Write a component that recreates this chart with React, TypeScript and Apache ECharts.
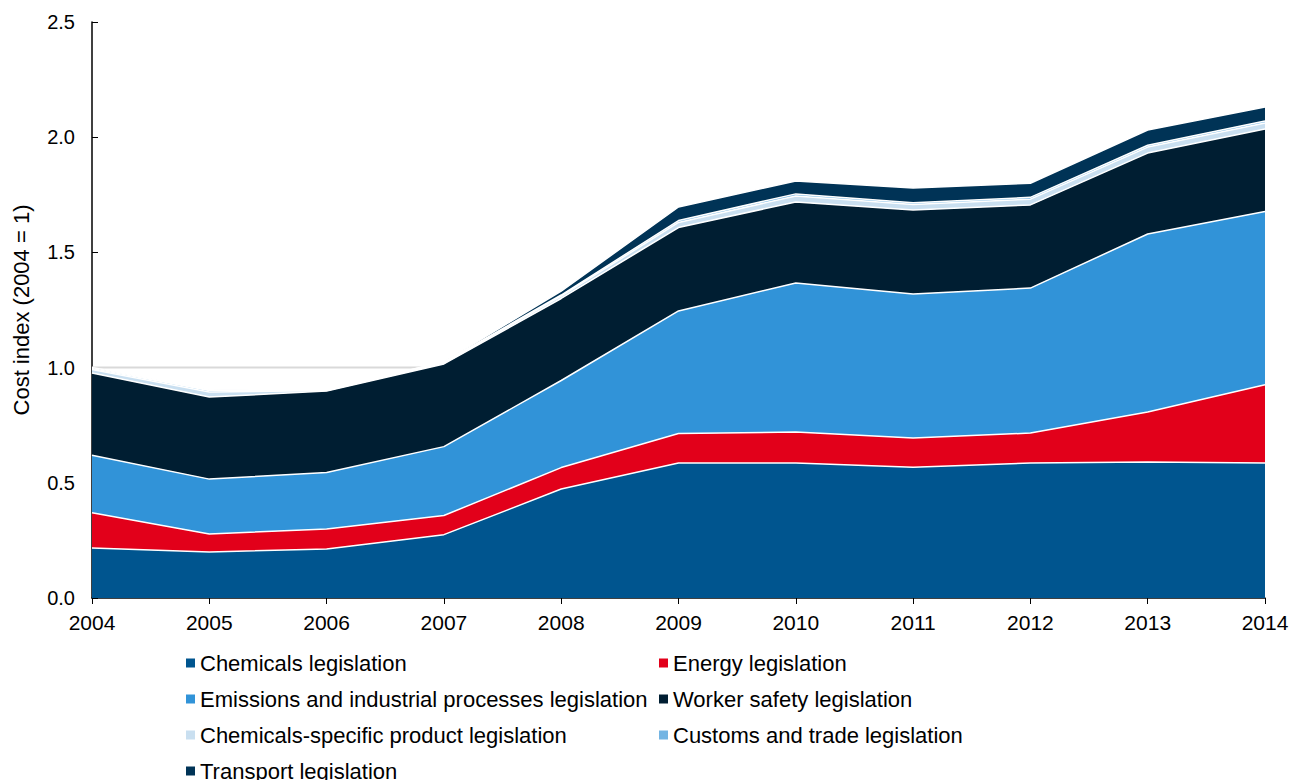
import React, { useEffect, useRef } from "react";
import * as echarts from "echarts";

const years = ["2004", "2005", "2006", "2007", "2008", "2009", "2010", "2011", "2012", "2013", "2014"];
const chemicals = [0.217, 0.2, 0.213, 0.275, 0.473, 0.586, 0.586, 0.567, 0.586, 0.59, 0.586];
const energy = [0.153, 0.078, 0.087, 0.083, 0.093, 0.128, 0.134, 0.127, 0.13, 0.217, 0.34];
const emissions = [0.25, 0.238, 0.245, 0.299, 0.378, 0.532, 0.647, 0.625, 0.629, 0.773, 0.752];
const workerSafety = [0.357, 0.356, 0.353, 0.359, 0.356, 0.362, 0.352, 0.365, 0.361, 0.351, 0.358];
const chemProduct = [0.015, 0.022, 0.003, 0.004, 0.01, 0.022, 0.026, 0.024, 0.025, 0.026, 0.026];
const customs = [0.004, 0.007, 0.002, 0.004, 0.005, 0.008, 0.009, 0.008, 0.008, 0.008, 0.008];
const transport = [0.004, 0.002, 0.001, 0.001, 0.017, 0.059, 0.056, 0.064, 0.061, 0.066, 0.061];
const referenceLine = [1, 1, 1, 1, 1, 1, 1, 1, 1, 1, 1];
const yTicks = [0, 0.5, 1, 1.5, 2, 2.5];

const seriesDefs = [
  { name: "Chemicals legislation", data: chemicals, color: "#00558F" },
  { name: "Energy legislation", data: energy, color: "#E2001A" },
  { name: "Emissions and industrial processes legislation", data: emissions, color: "#3193D8" },
  { name: "Worker safety legislation", data: workerSafety, color: "#001E32" },
  { name: "Chemicals-specific product legislation", data: chemProduct, color: "#C9DFF0" },
  { name: "Customs and trade legislation", data: customs, color: "#74B5E3" },
  { name: "Transport legislation", data: transport, color: "#003356" },
];

const FONT = "'Liberation Sans', Arial, sans-serif";

export default function App() {
  const ref = useRef<HTMLDivElement>(null);
  useEffect(() => {
    if (!ref.current) return;
    document.documentElement.style.overflow = "hidden";
    document.body.style.overflow = "hidden";
    const chart = echarts.init(ref.current, null, { renderer: "svg" });
    const legendText = { color: "#000", fontSize: 22, fontFamily: FONT, lineHeight: 22 };
    const legendCommon = {
      orient: "vertical",
      itemWidth: 9,
      itemHeight: 9,
      itemGap: 14,
      icon: "rect",
      textStyle: legendText,
    };
    chart.setOption({
      animation: false,
      grid: { left: 92, right: 26, top: 22, bottom: 182, containLabel: false, outerBoundsMode: "none" },
      legend: [
        {
          ...legendCommon,
          left: 181,
          top: 647,
          data: [seriesDefs[0].name, seriesDefs[2].name, seriesDefs[4].name],
        },
        {
          ...legendCommon,
          left: 181,
          top: 755,
          data: [seriesDefs[6].name],
        },
        {
          ...legendCommon,
          left: 654,
          top: 647,
          data: [seriesDefs[1].name, seriesDefs[3].name, seriesDefs[5].name],
        },
      ],
      xAxis: {
        type: "category",
        data: years,
        boundaryGap: false,
        axisLine: { show: true, lineStyle: { color: "#000", width: 1.5 } },
        axisTick: { show: true, inside: false, length: 6, alignWithLabel: true, lineStyle: { color: "#000" } },
        axisLabel: { color: "#000", fontSize: 21, fontFamily: FONT, margin: 14 },
        splitLine: { show: false },
      },
      yAxis: {
        type: "value",
        min: yTicks[0],
        max: yTicks[yTicks.length - 1],
        interval: 0.5,
        name: "Cost index (2004 = 1)",
        nameLocation: "middle",
        nameGap: 60,
        nameTextStyle: { color: "#000", fontSize: 22, fontFamily: FONT },
        axisLine: { show: true, lineStyle: { color: "#000", width: 1.5 } },
        axisTick: { show: true, inside: true, length: 6, lineStyle: { color: "#000" } },
        axisLabel: {
          color: "#000",
          fontSize: 20,
          fontFamily: FONT,
          margin: 17,
          formatter: (v: number) => v.toFixed(1),
        },
        splitLine: { show: false },
      },
      series: [
        {
          name: "ref",
          type: "line",
          data: referenceLine,
          showSymbol: false,
          symbol: "none",
          lineStyle: { color: "#D9D9D9", width: 2 },
          silent: true,
          z: 1,
        },
        ...seriesDefs.map((s) => ({
          name: s.name,
          type: "line",
          stack: "total",
          data: s.data,
          symbol: "none",
          showSymbol: false,
          itemStyle: { color: s.color },
          lineStyle: { color: "#FFFFFF", width: 1.5 },
          areaStyle: { color: s.color, opacity: 1 },
          z: 2,
        })),
      ],
    });
    return () => chart.dispose();
  }, []);
  return (
    <div
      ref={ref}
      style={{ position: "absolute", left: 0, top: 0, width: 1291, height: 780 }}
    />
  );
}
